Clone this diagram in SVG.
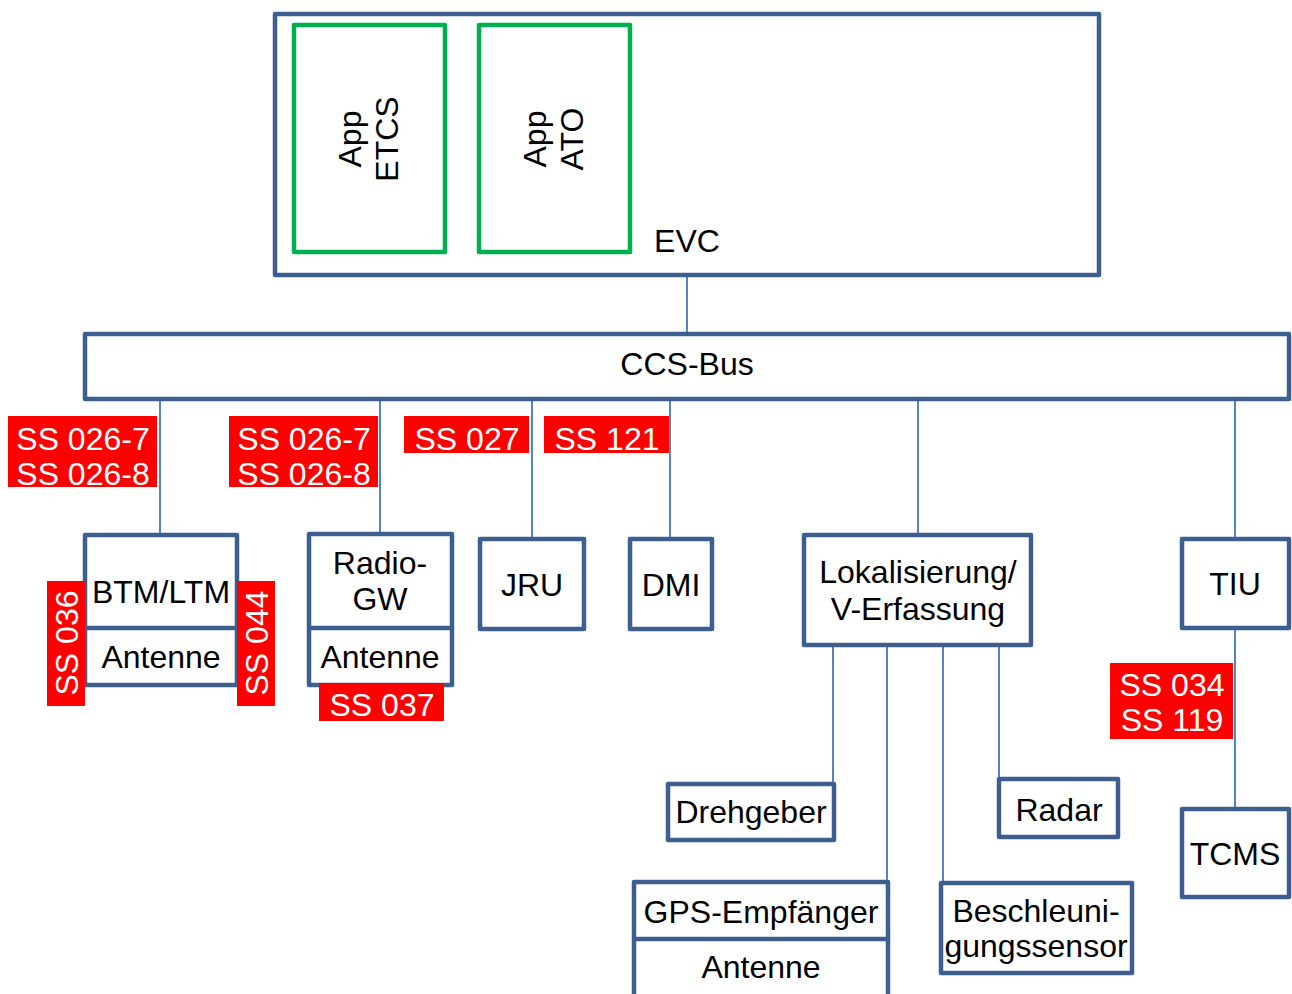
<svg xmlns="http://www.w3.org/2000/svg" width="1292" height="994" viewBox="0 0 1292 994">
<style>
text{font-family:"Liberation Sans",Arial,sans-serif;font-size:32px;fill:#000;text-anchor:middle}
.box{fill:#fff;stroke:#3D5F8F;stroke-width:4.5;stroke-linejoin:round}
.app{fill:#fff;stroke:#00B050;stroke-width:4.5;stroke-linejoin:round}
.con{stroke:#5584C2;stroke-width:2;fill:none}
.tag{fill:#FF0000}
text.w{fill:#fff}
</style>
<rect width="1292" height="994" fill="#fff"/>
<g id="connectors">
<line class="con" x1="687" y1="277" x2="687" y2="334"/>
<line class="con" x1="160" y1="399" x2="160" y2="535"/>
<line class="con" x1="380" y1="399" x2="380" y2="534"/>
<line class="con" x1="532" y1="399" x2="532" y2="539"/>
<line class="con" x1="670" y1="399" x2="670" y2="539"/>
<line class="con" x1="918" y1="399" x2="918" y2="535"/>
<line class="con" x1="1235" y1="399" x2="1235" y2="539"/>
<line class="con" x1="833" y1="645" x2="833" y2="784"/>
<line class="con" x1="887" y1="645" x2="887" y2="882"/>
<line class="con" x1="943" y1="645" x2="943" y2="883"/>
<line class="con" x1="999" y1="645" x2="999" y2="779"/>
<line class="con" x1="1235" y1="628" x2="1235" y2="809"/>
</g>
<g id="evc">
<rect class="box" x="275" y="14" width="824" height="261"/>
<text x="687" y="252">EVC</text>
</g>
<g id="app-etcs">
<rect class="app" x="294" y="25" width="151" height="227"/>
<text transform="translate(369,139) rotate(-90)"><tspan x="0" y="-8">App</tspan><tspan x="0" y="29">ETCS</tspan></text>
</g>
<g id="app-ato">
<rect class="app" x="479" y="25" width="151" height="227"/>
<text transform="translate(555,139) rotate(-90)"><tspan x="0" y="-9">App</tspan><tspan x="0" y="28">ATO</tspan></text>
</g>
<g id="ccs-bus">
<rect class="box" x="85" y="334" width="1204" height="65"/>
<text x="687" y="375">CCS-Bus</text>
</g>
<g id="btm">
<rect class="box" x="85" y="535" width="152" height="150"/>
<line class="box" x1="85" y1="628" x2="237" y2="628"/>
<text x="161" y="603">BTM/LTM</text>
<text x="161" y="668">Antenne</text>
</g>
<g id="radio-gw">
<rect class="box" x="309" y="534" width="143" height="151"/>
<line class="box" x1="309" y1="628" x2="452" y2="628"/>
<text x="380" y="574">Radio-</text>
<text x="380" y="610">GW</text>
<text x="380" y="668">Antenne</text>
</g>
<g id="jru">
<rect class="box" x="480" y="539" width="104" height="90"/>
<text x="532" y="596">JRU</text>
</g>
<g id="dmi">
<rect class="box" x="630" y="539" width="82" height="90"/>
<text x="671" y="596">DMI</text>
</g>
<g id="lokalisierung">
<rect class="box" x="804" y="535" width="227" height="110"/>
<text x="918" y="583">Lokalisierung/</text>
<text x="918" y="620">V-Erfassung</text>
</g>
<g id="tiu">
<rect class="box" x="1182" y="539" width="107" height="89"/>
<text x="1235" y="595">TIU</text>
</g>
<g id="tcms">
<rect class="box" x="1182" y="809" width="107" height="88"/>
<text x="1235" y="865">TCMS</text>
</g>
<g id="drehgeber">
<rect class="box" x="668" y="784" width="166" height="56"/>
<text x="751" y="823">Drehgeber</text>
</g>
<g id="radar">
<rect class="box" x="999" y="779" width="119" height="58"/>
<text x="1059" y="821">Radar</text>
</g>
<g id="gps">
<rect class="box" x="634" y="882" width="254" height="120"/>
<line class="box" x1="634" y1="939" x2="888" y2="939"/>
<text x="761" y="923">GPS-Empfänger</text>
<text x="761" y="978">Antenne</text>
</g>
<g id="beschleunigungssensor">
<rect class="box" x="941" y="883" width="191" height="90"/>
<text x="1036" y="922">Beschleuni-</text>
<text x="1036" y="957">gungssensor</text>
</g>
<g id="tags">
<rect class="tag" x="8" y="416" width="149" height="71"/>
<text class="w" x="83" y="450">SS 026-7</text>
<text class="w" x="83" y="485">SS 026-8</text>
<rect class="tag" x="229" y="416" width="149" height="71"/>
<text class="w" x="304" y="450">SS 026-7</text>
<text class="w" x="304" y="485">SS 026-8</text>
<rect class="tag" x="404" y="416" width="125" height="37"/>
<text class="w" x="467" y="450">SS 027</text>
<rect class="tag" x="544" y="416" width="125" height="37"/>
<text class="w" x="607" y="450">SS 121</text>
<rect class="tag" x="47" y="581" width="38" height="125"/>
<text class="w" transform="translate(66,643) rotate(-90)" x="0" y="12">SS 036</text>
<rect class="tag" x="237" y="581" width="38" height="125"/>
<text class="w" transform="translate(256,643) rotate(-90)" x="0" y="12">SS 044</text>
<rect class="tag" x="319" y="683" width="125" height="38"/>
<text class="w" x="382" y="716">SS 037</text>
<rect class="tag" x="1110" y="663" width="123" height="76"/>
<text class="w" x="1172" y="696">SS 034</text>
<text class="w" x="1172" y="731">SS 119</text>
</g>
</svg>
